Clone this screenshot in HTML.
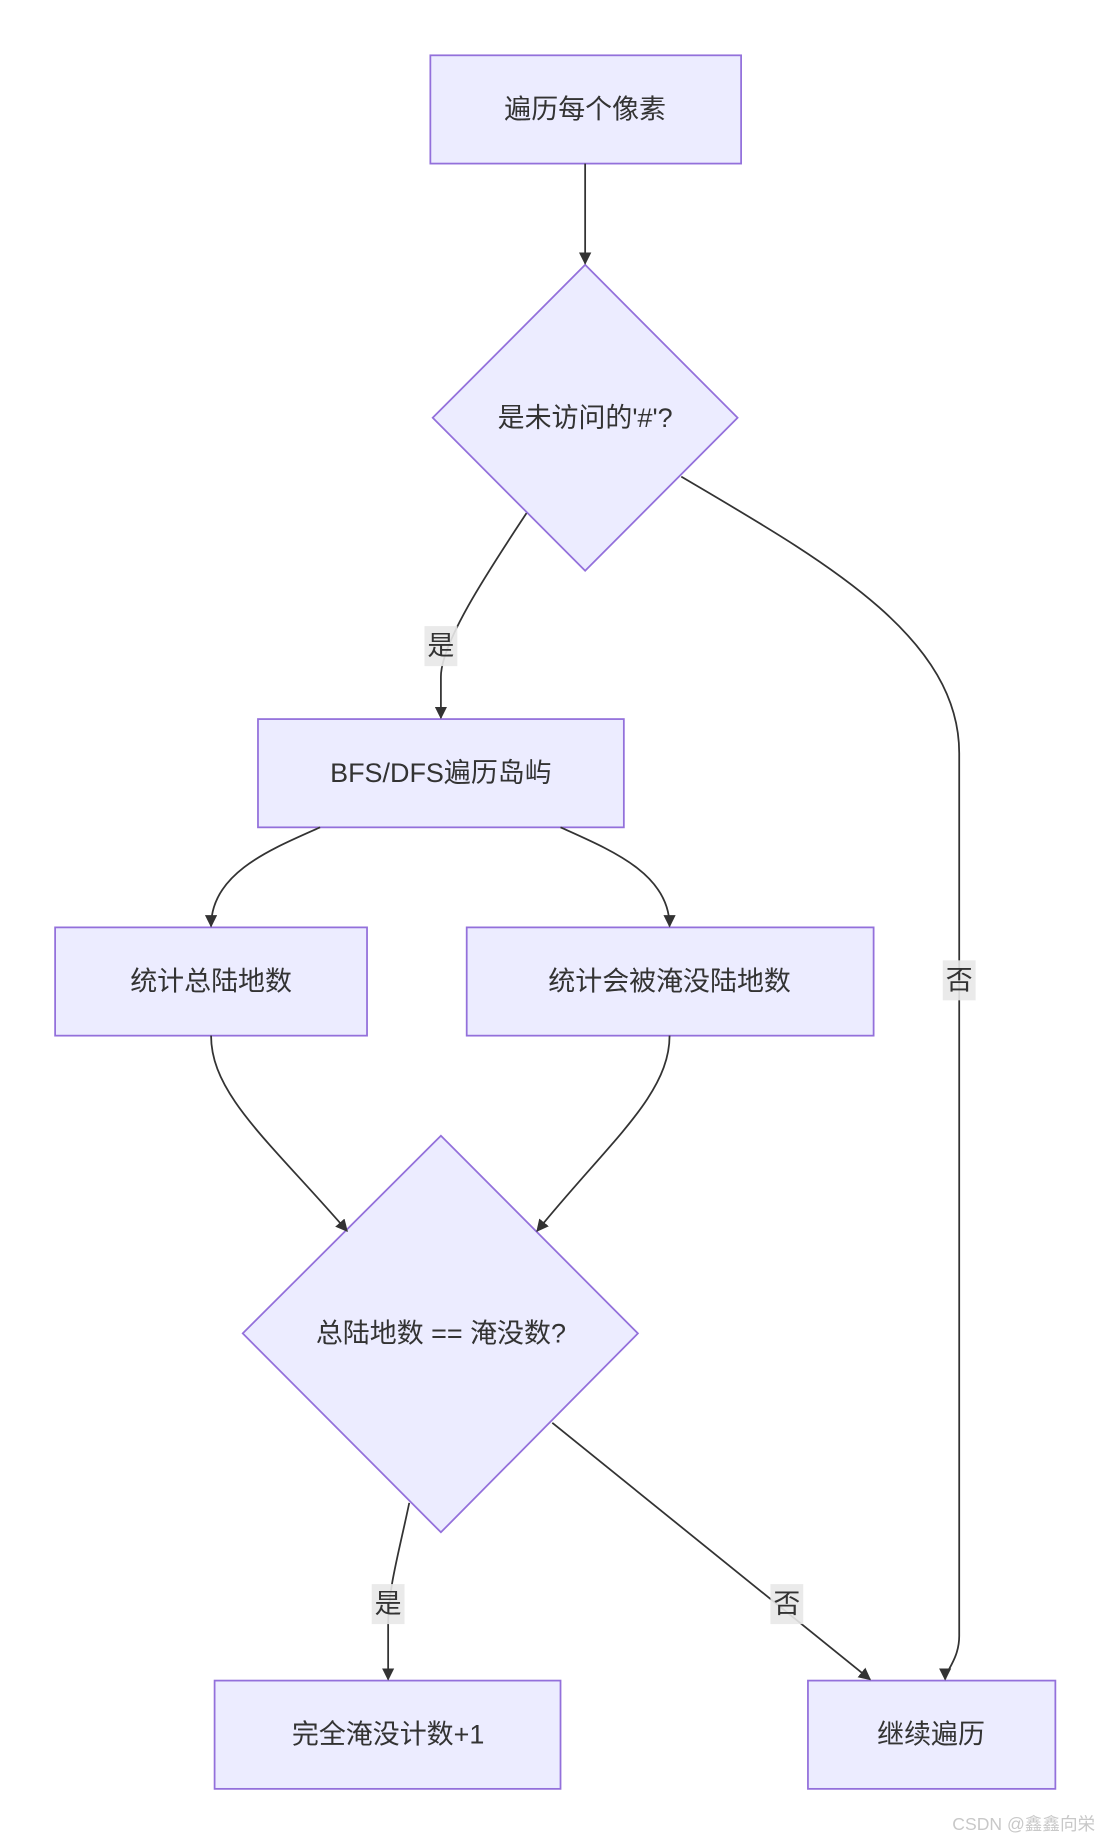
<!DOCTYPE html>
<html><head><meta charset="utf-8"><style>
html,body{margin:0;padding:0;background:#fff;}
svg{display:block}
text{font-family:"Liberation Sans","Noto Sans CJK SC",sans-serif;fill:#333;}
</style></head><body>
<svg width="1114" height="1843" viewBox="0 0 950 1566" preserveAspectRatio="none" xmlns="http://www.w3.org/2000/svg">
<defs><marker id="a" viewBox="0 0 10 10" refX="9" refY="5" markerWidth="7" markerHeight="7" orient="auto"><path d="M0,0L10,5L0,10z" fill="#333"/></marker></defs>
<g fill="#ECECFF" stroke="#9370DB" stroke-width="1.5">
<rect x="367" y="47" width="265" height="92"/>
<polygon points="499,225 629,355 499,485 369,355"/>
<rect x="220" y="611" width="312" height="92"/>
<rect x="47" y="788" width="266" height="92"/>
<rect x="398" y="788" width="347" height="92"/>
<polygon points="376,965 544,1133 376,1302 207,1133"/>
<rect x="183" y="1428" width="295" height="92"/>
<rect x="689" y="1428" width="211" height="92"/>
</g>
<g fill="none" stroke="#333" stroke-width="1.5" marker-end="url(#a)">
<path d="M499,139 L499,224"/>
<path d="M449,436 C420,480 376,545 376,575 L376,610"/>
<path d="M581,405 C700,475 818,540 818,640 L818,1390 C818,1410 806,1420 806,1427"/>
<path d="M273,703 C230,722 180,742 180,787"/>
<path d="M478,703 C520,722 571,742 571,787"/>
<path d="M180,880 C180,930 230,970 296,1046"/>
<path d="M571,880 C571,930 520,970 458,1046"/>
<path d="M349,1277 C340,1320 331,1350 331,1380 L331,1427"/>
<path d="M471,1209 L742,1427"/>
</g>
<g font-size="23" text-anchor="middle" dominant-baseline="central">
<text x="499" y="93">遍历每个像素</text>
<text x="499" y="355">是未访问的'#'?</text>
<text x="376" y="657">BFS/DFS遍历岛屿</text>
<text x="180" y="834">统计总陆地数</text>
<text x="571" y="834">统计会被淹没陆地数</text>
<text x="376" y="1133">总陆地数 == 淹没数?</text>
<text x="331" y="1474">完全淹没计数+1</text>
<text x="794" y="1474">继续遍历</text>
</g>
<g fill="#e8e8e8" opacity="0.9">
<rect x="362" y="532" width="28" height="34"/>
<rect x="804" y="816" width="28" height="34"/>
<rect x="317" y="1346" width="28" height="34"/>
<rect x="657" y="1346" width="28" height="34"/>
</g>
<g font-size="23" text-anchor="middle" dominant-baseline="central">
<text x="376" y="549">是</text>
<text x="818" y="833">否</text>
<text x="331" y="1363">是</text>
<text x="671" y="1363">否</text>
</g>
<text x="873" y="1550" font-size="15" text-anchor="middle" dominant-baseline="central" style="fill:#c8c8c8">CSDN @鑫鑫向栄</text>
</svg>
</body></html>
